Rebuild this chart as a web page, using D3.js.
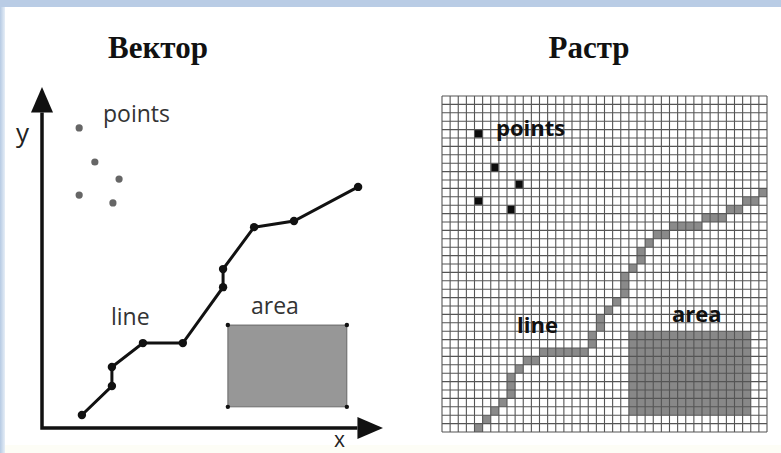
<!DOCTYPE html>
<html><head><meta charset="utf-8">
<script src="https://cdn.jsdelivr.net/npm/d3@7"></script>
<style>html,body{margin:0;padding:0;background:#fff;}svg{display:block;}</style>
</head><body>
<svg id="c" width="781" height="453"></svg>
<script>
// ---------- DATA ----------
const titles = ["Вектор", "Растр"];
const labelsVector = ["points", "line", "area"];
const axisLabels = ["y", "x"];
// vector picture, units 0..100 on both axes
const vecPoints = [[10.9, 88], [15.5, 78], [22.6, 73], [10.9, 68.3], [20.8, 66]];
const vecLine = [[11.7, 3.8], [20.5, 12.3], [20.5, 17.9], [29.6, 24.9], [41.3, 24.9],
                 [53.1, 41.3], [53.1, 46.6], [62.2, 58.9], [73.9, 60.7], [92.7, 70.7]];
const vecArea = [[54.5, 30.2], [89.4, 30.2], [89.4, 6.2], [54.5, 6.2]];
// raster picture, 40 x 40 cells: [column, row]
const gridSize = 40;
const rasPoints = [[4, 4], [6, 8], [9, 10], [4, 12], [8, 13]];
const rasLine = [[4, 39], [5, 38], [6, 37], [7, 36], [8, 35], [8, 34], [8, 33], [9, 32],
  [10, 31], [11, 31], [12, 30], [13, 30], [14, 30], [15, 30], [16, 30], [17, 30],
  [18, 29], [18, 28], [19, 27], [19, 26], [20, 25], [21, 24], [22, 23], [22, 22], [22, 21],
  [23, 20], [24, 19], [24, 18], [25, 17], [26, 16], [27, 16], [28, 15], [29, 15], [30, 15],
  [31, 15], [32, 14], [33, 14], [34, 14], [35, 13], [36, 13], [37, 12], [38, 12], [39, 11]];
const rasAreaCols = [23, 38];   // from column, to column (exclusive)
const rasAreaRows = [28, 38];   // from row, to row (exclusive)

// ---------- DRAW ----------
const svg = d3.select("#c");
// frame
const defs = svg.append("defs");
const lg = defs.append("linearGradient").attr("id", "lg").attr("x1", 0).attr("x2", 1);
lg.append("stop").attr("offset", 0).attr("stop-color", "#b6cae3");
lg.append("stop").attr("offset", 1).attr("stop-color", "#e6eef7");
svg.append("rect").attr("width", 781).attr("height", 453).attr("fill", "#fff");
svg.append("rect").attr("x", 0).attr("y", 0).attr("width", 5).attr("height", 453).attr("fill", "url(#lg)");
svg.append("rect").attr("x", 0).attr("y", 0).attr("width", 781).attr("height", 7).attr("fill", "#b9cce5");
svg.append("rect").attr("x", 5).attr("y", 445).attr("width", 776).attr("height", 8).attr("fill", "#fdfdf6");

// titles
svg.selectAll("text.title").data(titles).join("text")
  .attr("class", "title")
  .attr("x", (d, i) => i === 0 ? 158 : 589).attr("y", 58)
  .attr("text-anchor", "middle")
  .attr("font-family", "Liberation Serif, Times New Roman, serif")
  .attr("font-weight", "bold").attr("font-size", 31).attr("fill", "#111")
  .text(d => d);

// ---- vector ----
const vx = d3.scaleLinear().domain([0, 100]).range([42, 383]);
const vy = d3.scaleLinear().domain([0, 100]).range([428, 87]);
const gV = svg.append("g");
const comic = "Comic Sans MS, Open Sans, DejaVu Sans, sans-serif";

// axes
gV.append("path")
  .attr("d", `M${vx(0)},${vy(92.5)} L${vx(0)},${vy(0)} L${vx(92.5)},${vy(0)}`)
  .attr("fill", "none").attr("stroke", "#111").attr("stroke-width", 3.5)
  .attr("stroke-linejoin", "miter");
gV.append("path")
  .attr("d", `M${vx(0)},${vy(100)} L${vx(0) + 11},${vy(92.5)} L${vx(0) - 11},${vy(92.5)} Z`)
  .attr("fill", "#111");
gV.append("path")
  .attr("d", `M${vx(100)},${vy(0)} L${vx(92.5)},${vy(0) - 11} L${vx(92.5)},${vy(0) + 11} Z`)
  .attr("fill", "#111");
gV.append("text").attr("x", 16).attr("y", 142).attr("font-family", comic)
  .attr("font-size", 26).attr("fill", "#222").text(axisLabels[0]);
gV.append("text").attr("x", 334).attr("y", 447).attr("font-family", comic)
  .attr("font-size", 21).attr("fill", "#222").text(axisLabels[1]);

// points
gV.selectAll("circle.vp").data(vecPoints).join("circle").attr("class", "vp")
  .attr("cx", d => vx(d[0])).attr("cy", d => vy(d[1])).attr("r", 3.6).attr("fill", "#666");
gV.append("text").attr("x", 103).attr("y", 122).attr("font-family", comic)
  .attr("font-size", 23).attr("fill", "#333").text(labelsVector[0]);

// line
gV.append("path").datum(vecLine)
  .attr("d", d3.line().x(d => vx(d[0])).y(d => vy(d[1])))
  .attr("fill", "none").attr("stroke", "#111").attr("stroke-width", 3);
gV.selectAll("circle.vl").data(vecLine).join("circle").attr("class", "vl")
  .attr("cx", d => vx(d[0])).attr("cy", d => vy(d[1])).attr("r", 4.2).attr("fill", "#111");
gV.append("text").attr("x", 111).attr("y", 325).attr("font-family", comic)
  .attr("font-size", 23).attr("fill", "#333").text(labelsVector[1]);

// area
gV.append("path").datum(vecArea)
  .attr("d", d3.line().x(d => vx(d[0])).y(d => vy(d[1])).curve(d3.curveLinearClosed))
  .attr("fill", "#979797").attr("stroke", "#555").attr("stroke-width", 0.8);
gV.selectAll("circle.va").data(vecArea).join("circle").attr("class", "va")
  .attr("cx", d => vx(d[0])).attr("cy", d => vy(d[1])).attr("r", 2.2).attr("fill", "#111");
gV.append("text").attr("x", 251).attr("y", 314).attr("font-family", comic)
  .attr("font-size", 23).attr("fill", "#333").text(labelsVector[2]);

// ---- raster ----
const rx = d3.scaleLinear().domain([0, gridSize]).range([442, 767]);
const ry = d3.scaleLinear().domain([0, gridSize]).range([96, 432]);
const gR = svg.append("g");
const cw = rx(1) - rx(0), ch = ry(1) - ry(0);

gR.append("rect").attr("x", rx(rasAreaCols[0])).attr("y", ry(rasAreaRows[0]))
  .attr("width", rx(rasAreaCols[1]) - rx(rasAreaCols[0]))
  .attr("height", ry(rasAreaRows[1]) - ry(rasAreaRows[0]))
  .attr("fill", "#888");
gR.selectAll("rect.rl").data(rasLine).join("rect").attr("class", "rl")
  .attr("x", d => rx(d[0])).attr("y", d => ry(d[1])).attr("width", cw).attr("height", ch)
  .attr("fill", "#8a8a8a");

// grid
const ticks = d3.range(gridSize + 1);
gR.selectAll("line.gv").data(ticks).join("line").attr("class", "gv")
  .attr("x1", d => rx(d)).attr("x2", d => rx(d)).attr("y1", ry(0)).attr("y2", ry(gridSize))
  .attr("stroke", "#555").attr("stroke-width", 1.1);
gR.selectAll("line.gh").data(ticks).join("line").attr("class", "gh")
  .attr("y1", d => ry(d)).attr("y2", d => ry(d)).attr("x1", rx(0)).attr("x2", rx(gridSize))
  .attr("stroke", "#555").attr("stroke-width", 1.1);

gR.selectAll("rect.rp").data(rasPoints).join("rect").attr("class", "rp")
  .attr("x", d => rx(d[0]) + 0.5).attr("y", d => ry(d[1]) + 0.5)
  .attr("width", cw - 1).attr("height", ch - 1).attr("fill", "#0d0d0d");

gR.append("text").attr("x", 496).attr("y", 136).attr("font-family", comic)
  .attr("font-weight", "bold").attr("font-size", 22).attr("fill", "#111").text(labelsVector[0]);
gR.append("text").attr("x", 517).attr("y", 333).attr("font-family", comic)
  .attr("font-weight", "bold").attr("font-size", 22).attr("fill", "#111").text(labelsVector[1]);
gR.append("text").attr("x", 672).attr("y", 322).attr("font-family", comic)
  .attr("font-weight", "bold").attr("font-size", 22).attr("fill", "#111").text(labelsVector[2]);
</script>
</body></html>
